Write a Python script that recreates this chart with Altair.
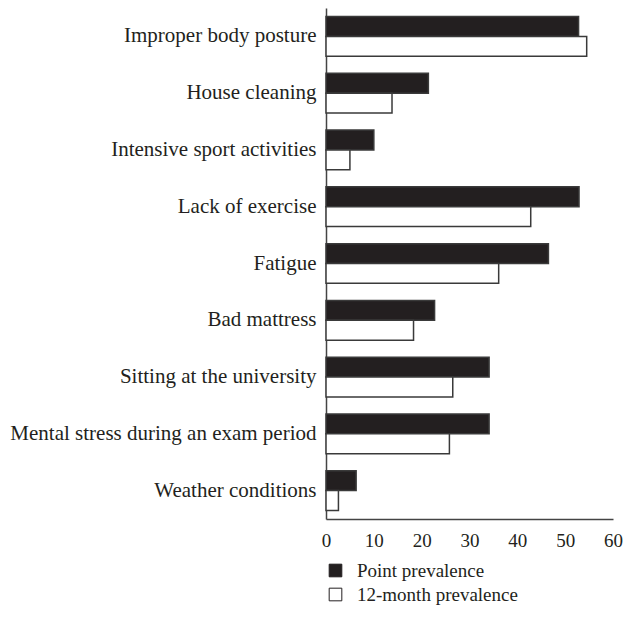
import altair as alt
import pandas as pd

categories = [
    "Improper body posture",
    "House cleaning",
    "Intensive sport activities",
    "Lack of exercise",
    "Fatigue",
    "Bad mattress",
    "Sitting at the university",
    "Mental stress during an exam period",
    "Weather conditions",
]
point_prev = [52.8, 21.4, 10.0, 52.9, 46.5, 22.7, 34.1, 34.1, 6.3]
month_prev = [54.5, 13.8, 5.0, 42.8, 36.1, 18.3, 26.5, 25.8, 2.6]
series = ["Point prevalence", "12-month prevalence"]
x_ticks = [0, 10, 20, 30, 40, 50, 60]

rows = []
for c, p, m in zip(categories, point_prev, month_prev):
    rows.append({"cause": c, "series": series[0], "value": p})
    rows.append({"cause": c, "series": series[1], "value": m})
df = pd.DataFrame(rows)

FONT = "Liberation Serif"

chart = alt.Chart(df).mark_bar(stroke="#3a3a3a", strokeWidth=1.5).encode(
    y=alt.Y("cause:N", sort=categories,
            scale=alt.Scale(paddingInner=0.3, paddingOuter=0.15),
            axis=alt.Axis(title=None, ticks=False, domainColor="#444", domainWidth=1.5,
                          labelFont=FONT, labelFontSize=21, labelColor="#231f20",
                          labelPadding=10, labelLimit=400)),
    yOffset=alt.YOffset("series:N", sort=series, scale=alt.Scale(domain=series)),
    x=alt.X("value:Q", scale=alt.Scale(domain=[0, 60], nice=False),
            axis=alt.Axis(title=None, values=x_ticks, ticks=False, grid=False,
                          domainColor="#444", domainWidth=1.5,
                          labelFont=FONT, labelFontSize=19, labelColor="#231f20",
                          labelPadding=12, labelFlush=False)),
    color=alt.Color("series:N", sort=series,
                    scale=alt.Scale(domain=series, range=["#231f20", "#ffffff"]),
                    legend=alt.Legend(title=None, orient="none", legendX=0, legendY=553,
                                      direction="vertical", symbolType="square",
                                      symbolSize=160, symbolStrokeColor="#231f20",
                                      symbolStrokeWidth=1, labelFont=FONT,
                                      labelFontSize=19, labelColor="#231f20",
                                      rowPadding=4, labelOffset=12, labelLimit=300)),
).properties(
    width=287, height=511,
    autosize=alt.AutoSizeParams(type="none"),
    padding={"left": 318, "top": 0, "right": 11, "bottom": 88},
).configure_view(stroke=None)

chart.save("out.html", embed_options={"renderer": "svg", "actions": False})
